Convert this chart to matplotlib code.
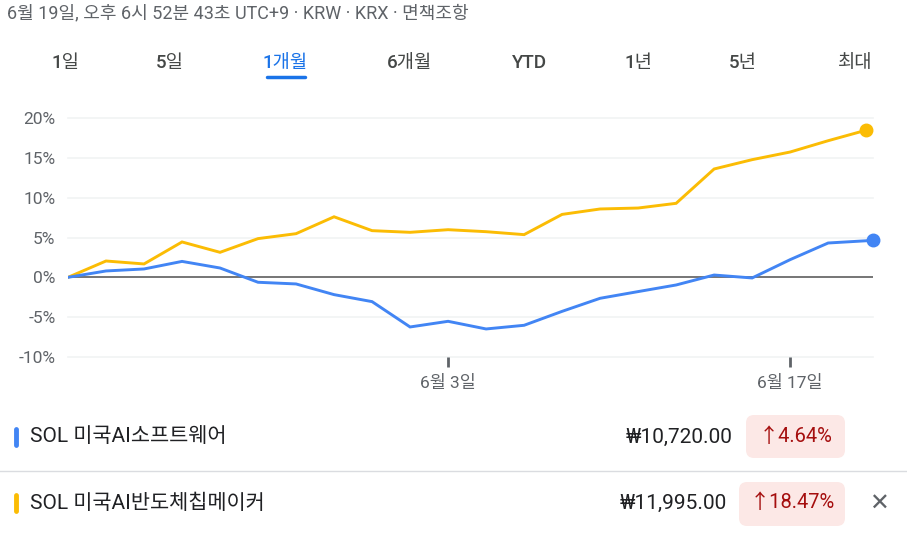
import matplotlib.pyplot as plt
from matplotlib.patches import FancyBboxPatch

plt.rcParams['font.family'] = ['Roboto', 'Noto Sans CJK KR', 'DejaVu Sans']

# chart data (percent change over one month)
x_days = list(range(22))
x_blue = list(range(21)) + [21.18]
yellow_pct = [0, 2.05, 1.68, 4.44, 3.14, 4.86, 5.48, 7.6, 5.86, 5.65, 5.98,
              5.73, 5.36, 7.9, 8.58, 8.7, 9.29, 13.6, 14.77, 15.73, 17.15, 18.47]
blue_pct = [0, 0.8, 1.05, 2.0, 1.17, -0.62, -0.83, -2.17, -3.05, -6.23, -5.52,
            -6.48, -6.02, -4.27, -2.63, -1.79, -0.96, 0.29, -0.08, 2.22, 4.31, 4.64]
y_ticks = [-10, -5, 0, 5, 10, 15, 20]
x_tick_pos = [10, 19]
x_tick_labels = ['6월 3일', '6월 17일']

header = '6월 19일, 오후 6시 52분 43초 UTC+9 · KRW · KRX · 면책조항'
tabs = ['1일', '5일', '1개월', '6개월', 'YTD', '1년', '5년', '최대']
tab_x = [65, 170, 285, 410, 530, 638, 743, 855]
active_tab = 2

names = ['SOL 미국AI소프트웨어', 'SOL 미국AI반도체칩메이커']
prices = ['₩10,720.00', '₩11,995.00']
changes = ['↑4.64%', '↑18.47%']

BLUE = '#4285f4'
YELLOW = '#fbbc04'
W, H = 907, 537

fig = plt.figure(figsize=(W / 100, H / 100), dpi=100)

# overlay in pixel coords for the page elements
ui = fig.add_axes([0, 0, 1, 1])
ui.set_xlim(0, W)
ui.set_ylim(H, 0)
ui.axis('off')

ui.text(7, 13, header, fontsize=13, color='#5f6368', va='center', ha='left')
for i, (t, tx) in enumerate(zip(tabs, tab_x)):
    col = '#1a73e8' if i == active_tab else '#444746'
    ui.text(tx, 63, t, fontsize=13.5, color=col, va='center', ha='center',
            fontweight='medium')
ui.plot([267, 305], [77, 77], color='#1a73e8', lw=2.5, solid_capstyle='round')

# legend rows
rows_y = [437, 503]
price_right = [733, 727]
badge_box = [(746, 415, 99, 43), (739, 482, 106, 44)]
for name, price, chg, col, ry, pr, bb in zip(names, prices, changes, [BLUE, YELLOW],
                                            rows_y, price_right, badge_box):
    ui.plot([16, 16], [ry - 8, ry + 8], color=col, lw=3.5, solid_capstyle='round')
    ui.text(30, ry, name, fontsize=15, color='#202124', va='center', ha='left')
    ui.text(pr, ry, price, fontsize=15, color='#202124', va='center', ha='right')
    bx, by, bw, bh = bb
    ui.add_patch(FancyBboxPatch((bx + 8, by + 8), bw - 16, bh - 16,
                                boxstyle='round,pad=8', fc='#fce8e6', ec='none'))
    ui.text(bx + bw / 2, ry, chg, fontsize=14.5, color='#a50e0e', va='center', ha='center')
ui.plot([0, W], [471, 471], color='#dadce0', lw=1)
ui.text(879, 504, '✕', fontsize=17, color='#5f6368', va='center', ha='center',
        family=['DejaVu Sans'])

# chart
ax = fig.add_axes([68 / W, 1 - 357 / H, (873 - 68) / W, (357 - 118) / H])
ax.patch.set_alpha(0)
ax.set_xlim(0, 21.18)
ax.set_ylim(-10, 20)
for s in ax.spines.values():
    s.set_visible(False)
for v in y_ticks:
    if v == 0:
        ax.axhline(v, color='#757575', lw=1.4, zorder=1)
    else:
        ax.axhline(v, color='#f1f3f4', lw=1.2, zorder=0, clip_on=False)

ax.plot(x_days, yellow_pct, color=YELLOW, lw=2.1, zorder=3, solid_joinstyle='miter')
ax.plot(x_blue, blue_pct, color=BLUE, lw=2.1, zorder=3, solid_joinstyle='miter')
ax.plot(x_days[-1], yellow_pct[-1], 'o', color=YELLOW, ms=9, zorder=4, clip_on=False)
ax.plot(x_blue[-1], blue_pct[-1], 'o', color=BLUE, ms=9, zorder=4, clip_on=False)

ax.set_yticks(y_ticks)
ax.set_yticklabels([f'{v}%' for v in y_ticks])
ax.tick_params(axis='y', length=0, pad=9, labelsize=12.5, labelcolor='#5f6368')
ax.set_xticks(x_tick_pos)
ax.set_xticklabels(x_tick_labels)
ax.tick_params(axis='x', length=7, width=2, color='#5f6368', pad=6,
               labelsize=12.5, labelcolor='#5f6368')

fig.savefig('out.png', dpi=100)
